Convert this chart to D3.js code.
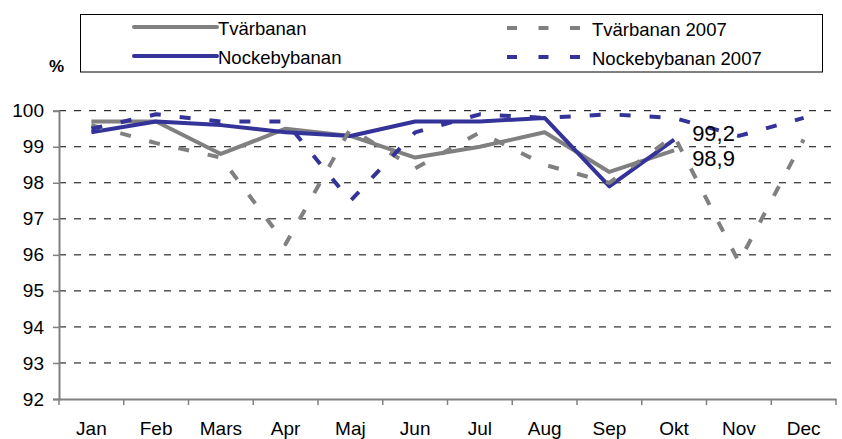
<!DOCTYPE html>
<html>
<head>
<meta charset="utf-8">
<script src="https://cdn.jsdelivr.net/npm/d3@7"></script>
<style>
  body { margin: 0; background: #fff; }
  text { font-family: "Liberation Sans", Arial, sans-serif; fill: #000; }
</style>
</head>
<body>
<svg id="chart"></svg>
<script>
const months = ["Jan", "Feb", "Mars", "Apr", "Maj", "Jun", "Jul", "Aug", "Sep", "Okt", "Nov", "Dec"];
const yTicks = [92, 93, 94, 95, 96, 97, 98, 99, 100];

// 2008 values run only to Okt
const tvarbanan = [99.7, 99.7, 98.8, 99.5, 99.3, 98.7, 99.0, 99.4, 98.3, 98.9, null, null];
const nockebybanan = [99.4, 99.7, 99.6, 99.4, 99.3, 99.7, 99.7, 99.8, 97.9, 99.2, null, null];
const tvarbanan2007 = [99.6, 99.1, 98.7, 96.3, 99.5, 98.4, 99.4, 98.5, 98.0, 99.3, 95.8, 99.2];
const nockebybanan2007 = [99.5, 99.9, 99.7, 99.7, 97.5, 99.4, 99.9, 99.8, 99.9, 99.8, 99.3, 99.8];

const series = [
  {name: "Tvärbanan", values: tvarbanan, color: "#808080", dash: null},
  {name: "Nockebybanan", values: nockebybanan, color: "#333399", dash: null},
  {name: "Tvärbanan 2007", values: tvarbanan2007, color: "#808080", dash: "11,19"},
  {name: "Nockebybanan 2007", values: nockebybanan2007, color: "#333399", dash: "11,19"}
];

const width = 842, height = 439;
const svg = d3.select("#chart").attr("width", width).attr("height", height);

const x = d3.scaleBand().domain(months).range([59, 836]);
const y = d3.scaleLinear().domain([92, 100]).range([399, 110.7]);

// grid lines
svg.append("g")
  .selectAll("line")
  .data(yTicks.filter(d => d > 92))
  .join("line")
  .attr("x1", 59).attr("x2", 836)
  .attr("y1", d => y(d)).attr("y2", d => y(d))
  .attr("stroke", "#000")
  .attr("stroke-width", 1)
  .attr("stroke-dasharray", "7,8");

// y axis
const yAxis = svg.append("g")
  .attr("transform", "translate(59,0)")
  .call(d3.axisLeft(y).tickValues(yTicks).tickSize(6).tickPadding(9));
yAxis.select(".domain").attr("stroke", "#808080").attr("stroke-width", 2);
yAxis.selectAll(".tick line").attr("stroke", "#808080").attr("stroke-width", 1.5);
yAxis.selectAll("text").attr("font-size", 19).attr("fill", "#000")
  .style("font-family", "'Liberation Sans', Arial, sans-serif");

// x axis
const xAxis = svg.append("g")
  .attr("transform", "translate(0,399)")
  .call(d3.axisBottom(x).tickSize(0).tickPadding(23));
xAxis.select(".domain").attr("stroke", "#808080").attr("stroke-width", 2);
xAxis.selectAll("text").attr("font-size", 19).attr("fill", "#000")
  .style("font-family", "'Liberation Sans', Arial, sans-serif");

// category ticks sit between the months
svg.append("g")
  .selectAll("line")
  .data(months.map(m => x(m)).concat([x.range()[1]]))
  .join("line")
  .attr("x1", d => d).attr("x2", d => d)
  .attr("y1", 399).attr("y2", 405)
  .attr("stroke", "#808080")
  .attr("stroke-width", 1.5);

// lines
const line = d3.line()
  .defined(d => d != null)
  .x((d, i) => x(months[i]) + x.bandwidth() / 2)
  .y(d => y(d));

svg.append("g")
  .selectAll("path")
  .data(series)
  .join("path")
  .attr("d", d => line(d.values))
  .attr("fill", "none")
  .attr("stroke", d => d.color)
  .attr("stroke-width", 4)
  .attr("stroke-linejoin", "round")
  .attr("stroke-dasharray", d => d.dash);

// data labels at Okt
const okt = months.indexOf("Okt");
const labelX = x("Okt") + x.bandwidth() / 2 + 18;
svg.append("text")
  .attr("x", labelX).attr("y", 141)
  .attr("font-size", 22)
  .text(String(nockebybanan[okt]).replace(".", ","));
svg.append("text")
  .attr("x", labelX).attr("y", 166)
  .attr("font-size", 22)
  .text(String(tvarbanan[okt]).replace(".", ","));

// unit label
svg.append("text")
  .attr("x", 49).attr("y", 72)
  .attr("font-size", 17)
  .attr("font-weight", "bold")
  .text("%");

// legend
const legend = svg.append("g");
legend.append("rect")
  .attr("x", 80.5).attr("y", 14.5)
  .attr("width", 742).attr("height", 57.5)
  .attr("fill", "#fff")
  .attr("stroke", "#000")
  .attr("stroke-width", 1);

const legendPos = [
  {x1: 134, x2: 217, tx: 218, y: 27},
  {x1: 134, x2: 217, tx: 218, y: 56},
  {x1: 507, x2: 580, tx: 592, y: 28},
  {x1: 507, x2: 580, tx: 592, y: 57}
];

series.forEach((s, i) => {
  const p = legendPos[i];
  legend.append("line")
    .attr("x1", p.x1).attr("x2", p.x2)
    .attr("y1", p.y).attr("y2", p.y)
    .attr("stroke", s.color)
    .attr("stroke-width", 4)
    .attr("stroke-linecap", s.dash ? "butt" : "round")
    .attr("stroke-dasharray", s.dash ? "10,21.5" : null);
  legend.append("text")
    .attr("x", p.tx).attr("y", p.y + 8)
    .attr("font-size", 18.5)
    .text(s.name);
});
</script>
</body>
</html>
